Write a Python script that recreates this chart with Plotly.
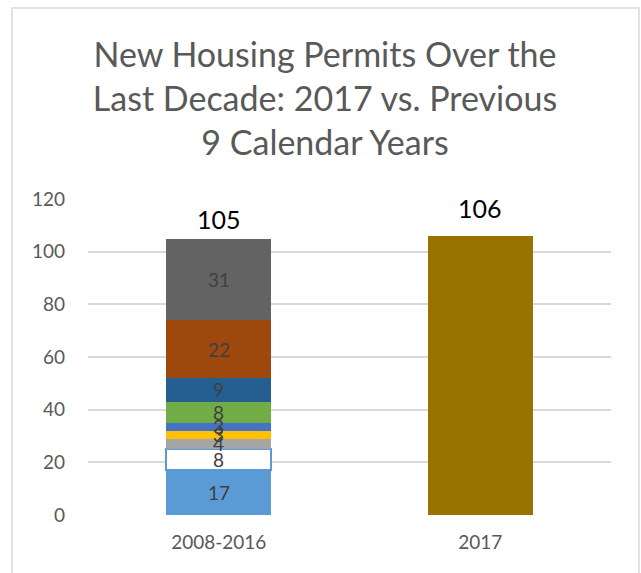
import plotly.graph_objects as go

categories = ["2008-2016", "2017"]
segment_values = [17, 8, 4, 3, 3, 8, 9, 22, 31]
segment_colors = ["#5B9BD5", "#FFFFFF", "#A5A5A5", "#FFC000", "#4472C4",
                  "#70AD47", "#255E91", "#9E480E", "#636363"]
value_2017 = 106
totals = [105, 106]
y_ticks = [0, 20, 40, 60, 80, 100, 120]

FONT = "Lato, Carlito, 'Open Sans', sans-serif"

fig = go.Figure()
base = 0
annotations = []
for i, (v, c) in enumerate(zip(segment_values, segment_colors)):
    is_white = c.upper() == "#FFFFFF"
    fig.add_trace(go.Bar(
        x=[categories[0]], y=[v],
        marker=dict(color=c,
                    line=dict(color="#5B9BD5" if is_white else c,
                              width=2 if is_white else 0)),
        showlegend=False, hoverinfo="y",
    ))
    annotations.append(dict(
        x=0, y=base + v / 2, xref="x", yref="y",
        text=str(v), showarrow=False,
        font=dict(family=FONT, size=19, color="#404040"),
    ))
    base += v

fig.add_trace(go.Bar(
    x=[categories[1]], y=[value_2017],
    marker=dict(color="#997300", line=dict(width=0)),
    showlegend=False, hoverinfo="y",
))

shifts = [3, 11]
for idx, (tot, sh) in enumerate(zip(totals, shifts)):
    annotations.append(dict(
        x=idx, y=tot, xref="x", yref="y", yanchor="bottom",
        text=str(tot), showarrow=False, yshift=sh,
        font=dict(family=FONT, size=25, color="#000000"),
    ))

fig.update_layout(
    width=641, height=573,
    barmode="stack", bargap=0.6,
    paper_bgcolor="white", plot_bgcolor="white",
    margin=dict(l=88, r=30, t=199, b=58),
    title=dict(
        text="New Housing Permits Over the<br>Last Decade: 2017 vs. Previous<br>9 Calendar Years",
        x=(325 - 88) / 523, xref="paper", xanchor="center",
        y=1 - 67 / 573, yanchor="middle", yref="container",
        font=dict(family=FONT, size=34, color="#595959"),
    ),
    annotations=annotations,
    shapes=[dict(type="rect", xref="paper", yref="paper",
                 x0=(12 - 88) / 523, x1=(639 - 88) / 523,
                 y0=-(590 - 515) / 316, y1=(515 - 8) / 316,
                 line=dict(color="#D9D9D9", width=1.5), layer="below")],
)
fig.update_xaxes(
    type="category", categoryorder="array", categoryarray=categories,
    range=[-0.5, 1.5],
    showgrid=False, showline=False, zeroline=False, ticks="",
    ticklabelstandoff=14,
    tickfont=dict(family=FONT, size=19, color="#595959"),
)
fig.update_yaxes(
    range=[0, 120], tickvals=y_ticks, showgrid=True,
    gridcolor="#D9D9D9", gridwidth=1.5, zeroline=False, showline=False,
    ticks="", ticklabelstandoff=22,
    tickfont=dict(family=FONT, size=19, color="#595959"),
)

fig.write_html("out.html")
